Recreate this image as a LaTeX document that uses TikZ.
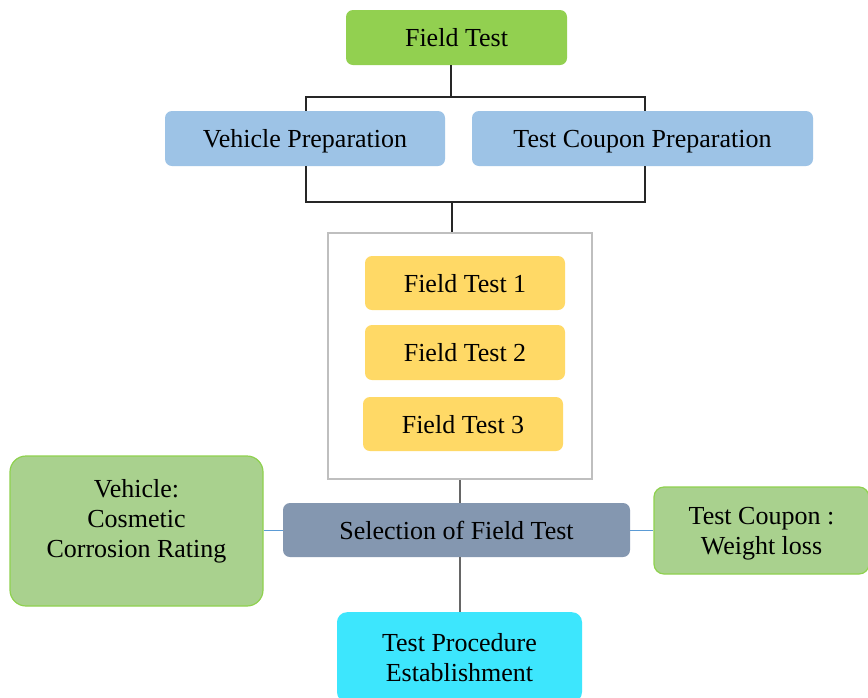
\documentclass[tikz,border=0pt]{standalone}
\usepackage{fontspec}
\setmainfont{Liberation Serif}
\definecolor{fgreen}{HTML}{92D050}
\definecolor{pblue}{HTML}{9DC3E6}
\definecolor{fyellow}{HTML}{FFD966}
\definecolor{sgray}{HTML}{8497B0}
\definecolor{lgreen}{HTML}{A9D18E}
\definecolor{lgreenb}{HTML}{8FD14F}
\definecolor{cyanb}{HTML}{3DE6FD}
\definecolor{boxgray}{HTML}{BFBFBF}
\definecolor{lblue}{HTML}{5B9BD5}
\begin{document}
\begin{tikzpicture}[x=1pt,y=-1pt,
  txt/.style={inner sep=0pt,align=center,text depth=0pt,font=\fontsize{26}{30}\selectfont},
  box/.style={txt,rounded corners=7pt},
  conn/.style={line width=1.4pt,black!85}]
\useasboundingbox (0,0) rectangle (868,697);
\fill[white] (0,0) rectangle (868,697);
% nodes
\node[box,fill=fgreen,minimum width=221pt,minimum height=55pt] (ft) at (456.5,37.5) {Field Test};
\node[box,fill=pblue,minimum width=280pt,minimum height=55pt] (vp) at (305,138.5) {Vehicle Preparation};
\node[box,fill=pblue,minimum width=341pt,minimum height=55pt] (tcp) at (642.5,138.5) {Test Coupon Preparation};
\node[draw=boxgray,line width=2.5pt,minimum width=264pt,minimum height=246pt,inner sep=0pt] (grp) at (460,356) {};
\node[box,fill=fyellow,minimum width=200pt,minimum height=54pt] (f1) at (465,283) {Field Test 1};
\node[box,fill=fyellow,minimum width=200pt,minimum height=55pt] (f2) at (465,352.5) {Field Test 2};
\node[box,fill=fyellow,minimum width=200pt,minimum height=54pt] (f3) at (463,424) {Field Test 3};
\node[box,fill=sgray,minimum width=347pt,minimum height=54pt] (sel) at (456.5,530) {Selection of Field Test};
\node[box,fill=lgreen,draw=lgreenb,line width=1.2pt,rounded corners=16pt,minimum width=253pt,minimum height=150pt] (veh) at (136.5,531) {};
\node[txt] (vehtxt) at (136.5,518) {Vehicle:\\Cosmetic\\Corrosion Rating};
\node[box,fill=lgreen,draw=lgreenb,line width=1.2pt,rounded corners=10pt,minimum width=215pt,minimum height=87pt] (tc) at (761.5,530.5) {Test Coupon :\\Weight loss};
\node[box,fill=cyanb,rounded corners=10pt,minimum width=245pt,minimum height=90pt,anchor=north] (tp) at (459.5,612) {Test Procedure\\Establishment};
% connectors
\coordinate (j1) at (451,97);
\coordinate (j2) at (452,202);
\draw[conn] (ft.south -| j1) -- (j1);
\draw[conn] (vp.north -| 306,0) -- (306,97) -- (645,97) -- (tcp.north -| 645,0);
\draw[conn] (vp.south -| 306,0) -- (306,202) -- (645,202) -- (tcp.south -| 645,0);
\draw[conn] (j2) -- (grp.north -| j2);
\draw[line width=1.2pt,black!60] (grp.south -| 460,0) -- (sel.north -| 460,0);
\draw[line width=1.2pt,black!60] (sel.south -| 460,0) -- (tp.north -| 460,0);
\draw[line width=1pt,lblue] (veh.east |- sel.west) -- (sel.west);
\draw[line width=1pt,lblue] (sel.east) -- (tc.west |- sel.east);
\end{tikzpicture}
\end{document}
